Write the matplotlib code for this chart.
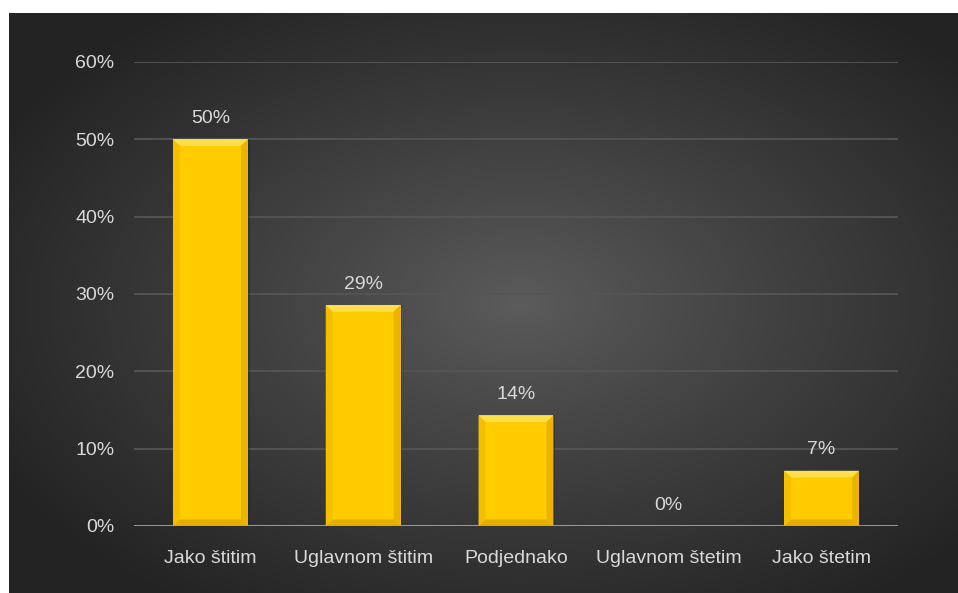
import numpy as np
import matplotlib.pyplot as plt
from matplotlib.patches import Polygon, Rectangle

plt.rcParams['font.family'] = ['Liberation Sans', 'DejaVu Sans']

categories = ['Jako štitim', 'Uglavnom štitim', 'Podjednako', 'Uglavnom štetim', 'Jako štetim']
values = [50.0, 28.57, 14.29, 0.0, 7.14]
yticks = [0, 10, 20, 30, 40, 50, 60]

text_col = '#D9D9D9'
gold = '#FFCC00'

fig = plt.figure(figsize=(9.58, 5.93), dpi=100, facecolor='white')

# radial gradient panel behind the chart
bg = fig.add_axes([9 / 958, 0, 1 - 9 / 958, 1 - 13 / 593])
bg.axis('off')
h, w = 580, 949
yy, xx = np.mgrid[0:h, 0:w]
cx, cy = 510, 290
r = np.sqrt(((xx - cx) / w) ** 2 + ((yy - cy) / h) ** 2) / 0.62
r = np.clip(r, 0, 1)
shade = 0.36 - 0.22 * r ** 0.9
img = np.dstack([shade, shade, shade])
bg.imshow(img, aspect='auto', extent=[0, 1, 0, 1], interpolation='bilinear')
bg.set_xlim(0, 1)
bg.set_ylim(0, 1)

ax = fig.add_axes([134 / 958, 1 - 526 / 593, (898 - 134) / 958, (526 - 62) / 593])
ax.patch.set_alpha(0)
ax.set_xlim(-0.5, len(categories) - 0.5)
ax.set_ylim(0, 60)

for t in yticks[1:]:
    ax.axhline(t, color='#555555', lw=1.3, zorder=1)
ax.axhline(0, color='#A6A6A6', lw=2, zorder=4)

bw = 0.49
bx = 0.045   # bevel width in x data units
by = 0.85    # bevel height in y data units
x = np.arange(len(categories))
bars = ax.bar(x, values, width=bw, color=gold, zorder=2, edgecolor='none')

for xi, v in zip(x, values):
    if v > 0:
        l, rr = xi - bw / 2, xi + bw / 2
        b2 = min(by, v / 2.5)
        # top, bottom, left, right bevel faces
        ax.add_patch(Polygon([[l, v], [rr, v], [rr - bx, v - b2], [l + bx, v - b2]],
                             closed=True, fc='#FFE04A', ec='none', zorder=3))
        ax.add_patch(Polygon([[l, 0], [rr, 0], [rr - bx, b2], [l + bx, b2]],
                             closed=True, fc='#E6AE00', ec='none', zorder=3))
        ax.add_patch(Polygon([[l, 0], [l, v], [l + bx, v - b2], [l + bx, b2]],
                             closed=True, fc='#F5BF00', ec='none', zorder=3))
        ax.add_patch(Polygon([[rr, 0], [rr, v], [rr - bx, v - b2], [rr - bx, b2]],
                             closed=True, fc='#EBB200', ec='none', zorder=3))
        # soft shadow on the right side
        ax.add_patch(Rectangle((rr, 0), 0.012, v, fc='#1a1a1a', alpha=0.35,
                               ec='none', zorder=1.5))
    ax.text(xi, v + 1.6, f'{v:.0f}%', ha='center', va='bottom',
            color=text_col, fontsize=14)

ax.set_xticks(x)
ax.set_xticklabels(categories, color=text_col, fontsize=14)
ax.set_yticks(yticks)
ax.set_yticklabels([f'{t}%' for t in yticks], color=text_col, fontsize=14)
ax.tick_params(axis='both', length=0)
ax.tick_params(axis='x', pad=17)
ax.tick_params(axis='y', pad=14)
for s in ax.spines.values():
    s.set_visible(False)

fig.savefig('out.png', dpi=100, facecolor='white')
